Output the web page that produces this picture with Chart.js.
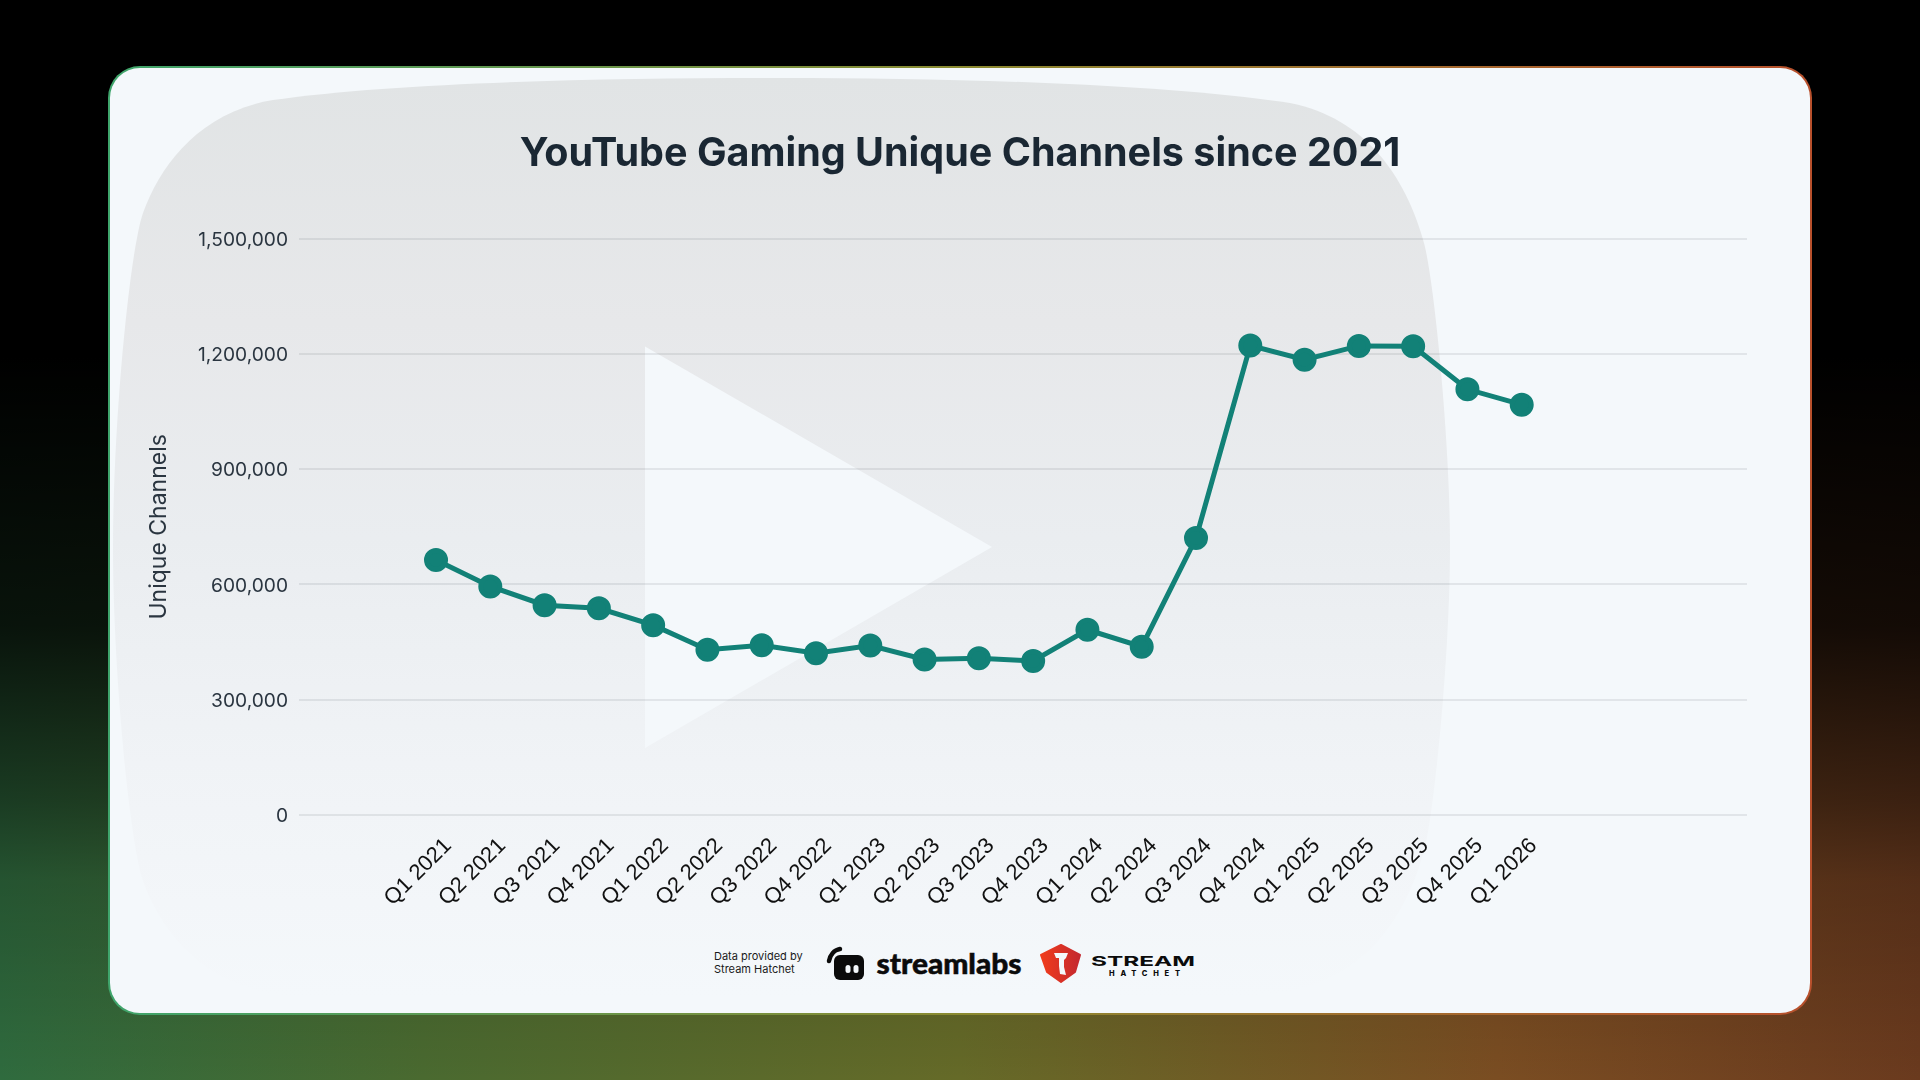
<!DOCTYPE html>
<html>
<head>
<meta charset="utf-8">
<title>YouTube Gaming Unique Channels since 2021</title>
<script src="https://cdn.jsdelivr.net/npm/chart.js@4/dist/chart.umd.js"></script>
<style>
  html, body { margin: 0; width: 1920px; height: 1080px; overflow: hidden; background: #000; }
  #bg {
    position: absolute; inset: 0;
    background:
      linear-gradient(to bottom, #000 0%, #000 33%, rgba(0,0,0,.82) 58%, rgba(0,0,0,.45) 74%, rgba(0,0,0,.22) 81.5%, rgba(0,0,0,0) 100%),
      linear-gradient(to right, #2f6b3e 0%, #4a6a30 22%, #656a28 50%, #7a4d22 78%, #6a3a1e 100%);
  }
  #card {
    position: absolute; left: 108px; top: 66px; width: 1704px; height: 949px;
    box-sizing: border-box; border-radius: 32px; padding: 2px;
    background: linear-gradient(to right, #3fa56c, #8a8a30 50%, #b8502c);
  }
  #card div { width: 100%; height: 100%; border-radius: 30px; background: #f4f8fb; }
  svg, canvas { position: absolute; left: 0; top: 0; }
</style>
</head>
<body>
<div id="bg"></div>
<div id="card"><div></div></div>

<svg width="1920" height="1080">
  <defs>
    <linearGradient id="mark" x1="0" y1="0" x2="0" y2="1">
      <stop offset="0" stop-color="#e1e4e5"/>
      <stop offset="0.26" stop-color="#e7e8ea"/>
      <stop offset="0.49" stop-color="#eaedf0"/>
      <stop offset="0.73" stop-color="#f0f3f6"/>
      <stop offset="0.88" stop-color="#f3f6f9"/>
      <stop offset="0.98" stop-color="#f4f8fb"/>
    </linearGradient>
    <linearGradient id="shield" x1="0" y1="0" x2="1" y2="0">
      <stop offset="0" stop-color="#f03c1c"/>
      <stop offset="1" stop-color="#c4282f"/>
    </linearGradient>
    <clipPath id="inCard"><rect x="110" y="68" width="1700" height="944" rx="30"/></clipPath>
  </defs>
  <!-- youtube watermark -->
  <path fill="url(#mark)" clip-path="url(#inCard)" d="M781 78 C960 78 1160 84 1290 103 C1365 118 1405 175 1424 243 C1434 280 1450 440 1450 547
    C1450 654 1434 814 1424 851 C1405 919 1365 976 1290 991 C1160 1010 960 1016 781 1016
    C600 1016 400 1012 273 994 C200 982 160 929 143 881 C130 844 113 674 113 547
    C113 420 130 250 143 213 C160 165 200 112 273 100 C400 82 600 78 781 78 Z"/>
  <path fill="#f4f8fb" d="M645 346.5 L992 547 L645 748 Z"/>

  <!-- footer logos -->
  <g font-family="Inter" fill="#1a1a1a" font-size="11">
    <text x="714" y="960">Data provided by</text>
    <text x="714" y="973">Stream Hatchet</text>
  </g>
  <path d="M829 961 C830 955 834 950 840 949" fill="none" stroke="#0b0b0b" stroke-width="4.5" stroke-linecap="round"/>
  <rect x="834" y="955" width="30" height="25" rx="6" fill="#0b0b0b"/>
  <rect x="845.5" y="965" width="5" height="8" rx="2.5" fill="#f4f8fb"/>
  <rect x="853.5" y="965" width="5" height="8" rx="2.5" fill="#f4f8fb"/>
  <text x="876.5" y="974" font-family="Lato" font-weight="900" font-size="28" fill="#0b0b0b" stroke="#0b0b0b" stroke-width="0.5"
        textLength="145" lengthAdjust="spacingAndGlyphs">streamlabs</text>
  <path fill="url(#shield)" stroke="url(#shield)" stroke-width="2" stroke-linejoin="round"
        d="M1061 945 L1080 955 L1075 972 L1061 982 L1047 972 L1041 955 Z"/>
  <path fill="#f4f8fb" d="M1054 953 L1068 953 L1066 958 L1064 960 L1064 967 L1066 975 L1060 974 L1059 966 L1059 958 L1056 958 Z"/>
  <text x="1091" y="966" font-family="Inter" font-weight="700" font-size="13.5" fill="#0b0b0b"
        textLength="104" lengthAdjust="spacingAndGlyphs">STREAM</text>
  <text x="1109" y="976" font-family="Inter" font-weight="800" font-size="7.5" fill="#0b0b0b"
        textLength="71" lengthAdjust="spacing">HATCHET</text>
</svg>

<canvas id="chart-unique-channels" width="1920" height="1080"></canvas>

<script>
const quarters = [
  "Q1 2021", "Q2 2021", "Q3 2021", "Q4 2021",
  "Q1 2022", "Q2 2022", "Q3 2022", "Q4 2022",
  "Q1 2023", "Q2 2023", "Q3 2023", "Q4 2023",
  "Q1 2024", "Q2 2024", "Q3 2024", "Q4 2024",
  "Q1 2025", "Q2 2025", "Q3 2025", "Q4 2025",
  "Q1 2026",
];
const uniqueChannels = [
  664000, 595000, 546000, 538000,
  494000, 430000, 442000, 421000,
  441000, 405000, 408000, 401000,
  482000, 438000, 721000, 1222000,
  1185000, 1221000, 1220000, 1108000,
  1068000,
];
const yMax = 1500000;
const yStep = 300000;

const ctx = document.getElementById("chart-unique-channels");

new Chart(ctx, {
  type: "line",
  data: {
    datasets: [
      {
        label: "Unique Channels",
        data: uniqueChannels.map((v, i) => ({ x: i, y: v })),
        borderColor: "#128177",
        backgroundColor: "#128177",
        borderWidth: 5,
        pointRadius: 9.5,
        pointHoverRadius: 9.5,
        tension: 0,
      },
    ],
  },
  options: {
    responsive: false,
    animation: false,
    layout: { padding: { left: 173, right: 173, top: 0, bottom: 0 } },
    plugins: {
      legend: { display: false },
      title: {
        display: true,
        text: "YouTube Gaming Unique Channels since 2021",
        color: "#1a2733",
        font: { family: "Inter", size: 39.5, weight: "700" },
        padding: { top: 130.8, bottom: 60.5 },
      },
    },
    scales: {
      x: {
        type: "linear",
        // quarter index, the axis has spare room on both sides
        min: -2.524,
        max: 24.15,
        afterBuildTicks: (axis) => {
          axis.ticks = quarters.map((q, i) => ({ value: i }));
        },
        afterFit: (axis) => { axis.height = 265; },
        grid: { display: false },
        border: { display: false },
        ticks: {
          autoSkip: false,
          minRotation: 45,
          maxRotation: 45,
          padding: 10,
          labelOffset: 12,
          color: "#111111",
          font: { family: "Liberation Sans", size: 22 },
          callback: (v) => quarters[v],
        },
      },
      y: {
        min: 0,
        max: yMax,
        afterFit: (axis) => { axis.width = 126; },
        grid: { color: "rgba(30,40,50,0.09)", lineWidth: 2, drawTicks: false },
        border: { display: false },
        ticks: {
          stepSize: yStep,
          padding: 11,
          labelOffset: 1.5,
          color: "#2a3540",
          font: { family: "Inter", size: 19.2 },
          callback: (v) => v.toLocaleString("en-US"),
        },
        title: {
          display: true,
          text: "Unique Channels",
          color: "#2a3540",
          font: { family: "Inter", size: 23 },
          padding: { top: -27.5, bottom: 0 },
        },
      },
    },
  },
});
</script>
</body>
</html>
